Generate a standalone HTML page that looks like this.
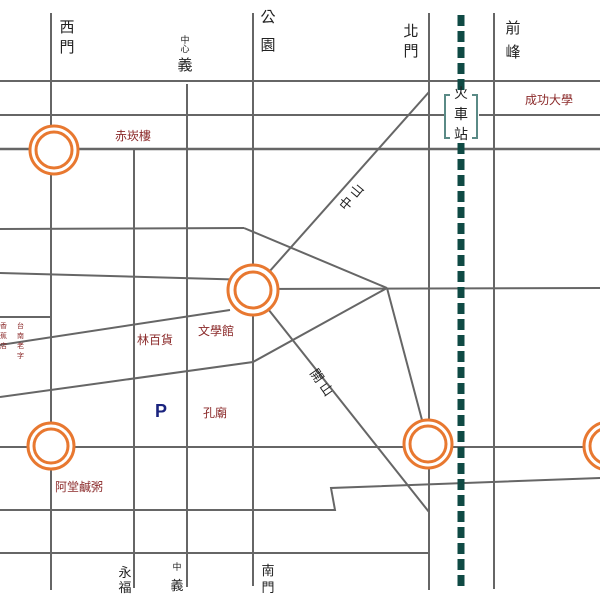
<!DOCTYPE html>
<html><head><meta charset="utf-8"><style>
html,body{margin:0;padding:0;background:#fff;}
svg{display:block;}
text{font-family:"Liberation Sans","Noto Sans CJK TC",sans-serif;}
</style></head><body>
<svg width="600" height="600" viewBox="0 0 600 600" xmlns="http://www.w3.org/2000/svg">
<g stroke="#666" stroke-width="2" fill="none">
<!-- verticals -->
<line x1="51" y1="13" x2="51" y2="590"/>
<line x1="134" y1="150" x2="134" y2="588"/>
<line x1="187" y1="84" x2="187" y2="587"/>
<line x1="253" y1="13" x2="253" y2="586"/>
<line x1="429" y1="13" x2="429" y2="590"/>
<line x1="494" y1="13" x2="494" y2="589"/>
<!-- horizontals -->
<line x1="0" y1="81" x2="600" y2="81"/>
<line x1="0" y1="115" x2="600" y2="115"/>
<line x1="0" y1="149" x2="600" y2="149" stroke-width="2.5"/>
<line x1="0" y1="229" x2="244" y2="228"/>
<line x1="0" y1="273" x2="253" y2="280"/>
<line x1="253" y1="289" x2="600" y2="288"/>
<line x1="0" y1="317" x2="51" y2="317"/>
<polyline points="0,345 230,310"/>
<polyline points="0,397 253,362 387,288"/>
<line x1="0" y1="447" x2="600" y2="447"/>
<polyline points="0,510 335,510 331,488 600,478"/>
<line x1="0" y1="553" x2="429" y2="553"/>
<!-- diagonals -->
<line x1="244" y1="228" x2="387" y2="288"/>
<line x1="253" y1="290" x2="429" y2="92"/>
<line x1="253" y1="290" x2="429" y2="512"/>
<line x1="387" y1="288" x2="422" y2="420"/>
</g>
<!-- railway -->
<line x1="461" y1="15" x2="461" y2="587" stroke="#0f4a44" stroke-width="7" stroke-dasharray="11,5"/>
<!-- station box -->
<rect x="445" y="92" width="34" height="48" fill="#fff"/>
<path d="M450,95 h-5 v43 h5 M472,95 h5 v43 h-5" stroke="#5a8a86" stroke-width="2" fill="none"/>
<g font-size="14" fill="#222" text-anchor="middle">
<text x="461" y="98">火</text><text x="461" y="119">車</text><text x="461" y="139">站</text>
</g>
<!-- stations -->
<g fill="#fff" stroke="#e87830" stroke-width="3">
<circle cx="54" cy="150" r="24"/><circle cx="54" cy="150" r="18" fill="none"/>
<circle cx="253" cy="290" r="25"/><circle cx="253" cy="290" r="18" fill="none"/>
<circle cx="51" cy="446" r="23"/><circle cx="51" cy="446" r="17" fill="none"/>
<circle cx="428" cy="444" r="24"/><circle cx="428" cy="444" r="18" fill="none"/>
<circle cx="608" cy="446" r="24"/><circle cx="608" cy="446" r="18" fill="none"/>
</g>
<!-- black street labels -->
<g font-size="15" fill="#222" text-anchor="middle">
<text x="67" y="32">西</text><text x="67" y="52">門</text>
<text x="185" y="43" font-size="9">中</text><text x="185" y="52" font-size="9">心</text><text x="185" y="70">義</text>
<text x="268" y="22">公</text><text x="268" y="50">園</text>
<text x="411" y="36">北</text><text x="411" y="56">門</text>
<text x="513" y="33">前</text><text x="513" y="57">峰</text>
<text x="125" y="577" font-size="13">永</text><text x="125" y="592" font-size="13">福</text>
<text x="177" y="570" font-size="9">中</text><text x="177" y="590" font-size="13">義</text>
<text x="268" y="575" font-size="13">南</text><text x="268" y="592" font-size="13">門</text>
<text x="355" y="200" font-size="13" transform="rotate(-50 355 200)">中 山</text>
<text x="318" y="385" font-size="13" transform="rotate(55 318 385)">開 山</text>
</g>
<!-- red POI labels -->
<g font-size="12" fill="#8b2a2a">
<text x="115" y="140">赤崁樓</text>
<text x="525" y="104">成功大學</text>
<text x="137" y="344">林百貨</text>
<text x="198" y="335">文學館</text>
<text x="203" y="417">孔廟</text>
<text x="55" y="491">阿堂鹹粥</text>
<g font-size="7"><text x="0" y="328">香</text><text x="0" y="338">蕉</text><text x="0" y="348">店</text>
<text x="17" y="328">台</text><text x="17" y="338">南</text><text x="17" y="348">老</text><text x="17" y="358">字</text></g>
</g>
<text x="161" y="417" font-size="18" font-weight="bold" fill="#1a237e" text-anchor="middle">P</text>
</svg>
</body></html>
